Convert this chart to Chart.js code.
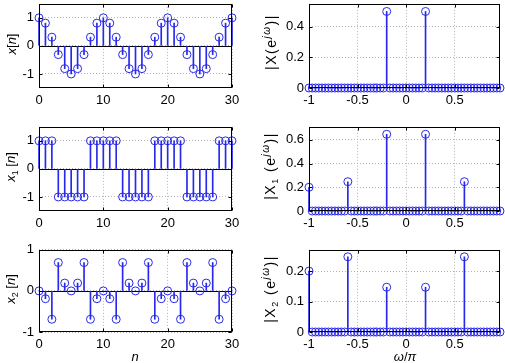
<!DOCTYPE html>
<html>
<head>
<meta charset="utf-8">
<script src="https://cdn.jsdelivr.net/npm/chart.js@4.4.0/dist/chart.umd.min.js"></script>
<style>
html, body { margin: 0; padding: 0; background: #fff; }
#fig { position: relative; width: 505px; height: 363px; overflow: hidden; font-family: "Liberation Sans", Arial, sans-serif; color: #000; }
#fig canvas { position: absolute; }
.yl { position: absolute; transform: translate(-50%, -50%) rotate(-90deg); white-space: nowrap; font-size: 13px; }
.yr { font-size: 14px; letter-spacing: 1.5px; }
.xl { position: absolute; transform: translate(-50%, -50%); white-space: nowrap; font-size: 13px; }
.yl sub { font-size: 9px; vertical-align: -3px; }
.yl sup { font-size: 10px; vertical-align: 6px; }
</style>
</head>
<body>
<div id="fig">
  <canvas id="c0"></canvas><canvas id="c1"></canvas><canvas id="c2"></canvas>
  <canvas id="c3"></canvas><canvas id="c4"></canvas><canvas id="c5"></canvas>
  <div class="yl" style="left:11px;top:44px"><i>x</i>[<i>n</i>]</div>
  <div class="yl" style="left:11px;top:167px"><i>x</i><sub>1</sub> [<i>n</i>]</div>
  <div class="yl" style="left:11px;top:289px"><i>x</i><sub>2</sub> [<i>n</i>]</div>
  <div class="yl yr" style="left:270px;top:42px">|X(e<sup><i>j&omega;</i></sup>)|</div>
  <div class="yl yr" style="left:270px;top:166px">|X<sub>1</sub> (e<sup><i>j&omega;</i></sup>)|</div>
  <div class="yl yr" style="left:270px;top:289px">|X<sub>2</sub> (e<sup><i>j&omega;</i></sup>)|</div>
  <div class="xl" style="left:135px;top:356px"><i>n</i></div>
  <div class="xl" style="left:405px;top:356px"><i>&omega;</i>/<i>&pi;</i></div>
</div>
<script>
// time index
const n = [0, 1, 2, 3, 4, 5, 6, 7, 8, 9, 10, 11, 12, 13, 14, 15, 16, 17, 18, 19, 20,
           21, 22, 23, 24, 25, 26, 27, 28, 29, 30];
const xn = [1, 0.81, 0.31, -0.31, -0.81, -1, -0.81, -0.31, 0.31, 0.81,
            1, 0.81, 0.31, -0.31, -0.81, -1, -0.81, -0.31, 0.31, 0.81,
            1, 0.81, 0.31, -0.31, -0.81, -1, -0.81, -0.31, 0.31, 0.81, 1];
const x1n = [1, 1, 1, -1, -1, -1, -1, -1, 1, 1,
             1, 1, 1, -1, -1, -1, -1, -1, 1, 1,
             1, 1, 1, -1, -1, -1, -1, -1, 1, 1, 1];
const x2n = [0, -0.19, -0.69, 0.69, 0.19, 0, 0.19, 0.69, -0.69, -0.19,
             0, -0.19, -0.69, 0.69, 0.19, 0, 0.19, 0.69, -0.69, -0.19,
             0, -0.19, -0.69, 0.69, 0.19, 0, 0.19, 0.69, -0.69, -0.19, 0];

// normalised frequency w/pi
const omega = [-1, -0.9667, -0.9333, -0.9, -0.8667, -0.8333, -0.8, -0.7667, -0.7333, -0.7,
               -0.6667, -0.6333, -0.6, -0.5667, -0.5333, -0.5, -0.4667, -0.4333, -0.4, -0.3667,
               -0.3333, -0.3, -0.2667, -0.2333, -0.2, -0.1667, -0.1333, -0.1, -0.0667, -0.0333,
               0, 0.0333, 0.0667, 0.1, 0.1333, 0.1667, 0.2, 0.2333, 0.2667, 0.3,
               0.3333, 0.3667, 0.4, 0.4333, 0.4667, 0.5, 0.5333, 0.5667, 0.6, 0.6333,
               0.6667, 0.7, 0.7333, 0.7667, 0.8, 0.8333, 0.8667, 0.9, 0.9333, 0.9667];
const magX = [0, 0, 0, 0, 0, 0, 0, 0, 0, 0,
              0, 0, 0, 0, 0, 0, 0, 0, 0, 0,
              0, 0, 0, 0, 0.5, 0, 0, 0, 0, 0,
              0, 0, 0, 0, 0, 0, 0.5, 0, 0, 0,
              0, 0, 0, 0, 0, 0, 0, 0, 0, 0,
              0, 0, 0, 0, 0, 0, 0, 0, 0, 0];
const magX1 = [0.2, 0, 0, 0, 0, 0, 0, 0, 0, 0,
               0, 0, 0.247, 0, 0, 0, 0, 0, 0, 0,
               0, 0, 0, 0, 0.647, 0, 0, 0, 0, 0,
               0, 0, 0, 0, 0, 0, 0.647, 0, 0, 0,
               0, 0, 0, 0, 0, 0, 0, 0, 0.247, 0,
               0, 0, 0, 0, 0, 0, 0, 0, 0, 0];
const magX2 = [0.2, 0, 0, 0, 0, 0, 0, 0, 0, 0,
               0, 0, 0.247, 0, 0, 0, 0, 0, 0, 0,
               0, 0, 0, 0, 0.147, 0, 0, 0, 0, 0,
               0, 0, 0, 0, 0, 0, 0.147, 0, 0, 0,
               0, 0, 0, 0, 0, 0, 0, 0, 0.247, 0,
               0, 0, 0, 0, 0, 0, 0, 0, 0, 0];

const nTicks = [0, 10, 20, 30];
const wTicks = [-1, -0.5, 0, 0.5];

const BLUE = 'rgb(40,40,236)';
const FONT = { family: '"Liberation Sans", Arial, sans-serif', size: 13 };

const cols = [{ L: 0, W: 250, x0: 39, x1: 232 }, { L: 250, W: 255, x0: 309, x1: 502 }];
const rows = [{ y0: 1, y1: 88 }, { y0: 124, y1: 211 }, { y0: 247, y1: 332 }];

const matlabBox = {
  id: 'matlabBox',
  beforeDatasetsDraw(chart, args, opts) {
    if (!opts.baseline) return;
    const { ctx, chartArea: a, scales: { y } } = chart;
    const py = Math.round(y.getPixelForValue(0)) + 0.5;
    ctx.save();
    ctx.strokeStyle = '#000';
    ctx.lineWidth = 1;
    ctx.beginPath();
    ctx.moveTo(a.left, py);
    ctx.lineTo(a.right, py);
    ctx.stroke();
    ctx.restore();
  },
  afterDraw(chart) {
    const { ctx, chartArea: a, scales: { x, y } } = chart;
    const l = Math.round(a.left) + 0.5, r = Math.round(a.right) - 0.5;
    const t = Math.round(a.top) + 0.5, b = Math.round(a.bottom) - 0.5;
    ctx.save();
    ctx.strokeStyle = '#000';
    ctx.lineWidth = 1;
    ctx.strokeRect(l, t, r - l, b - t);
    ctx.beginPath();
    x.ticks.forEach(tk => {
      const px = Math.round(x.getPixelForValue(tk.value)) + 0.5;
      ctx.moveTo(px, b); ctx.lineTo(px, b - 3);
      ctx.moveTo(px, t); ctx.lineTo(px, t + 3);
    });
    y.ticks.forEach(tk => {
      const py = Math.round(y.getPixelForValue(tk.value)) + 0.5;
      ctx.moveTo(l, py); ctx.lineTo(l + 3, py);
      ctx.moveTo(r, py); ctx.lineTo(r - 3, py);
    });
    ctx.stroke();
    ctx.restore();
  }
};

function stemPlot(id, col, row, xs, ys, xr, yr, xt, yt, baseline) {
  const c = cols[col], r = rows[row];
  const padTop = 10, xh = 30;
  const cv = document.getElementById(id);
  const H = r.y1 - r.y0 + padTop + xh;
  cv.width = c.W; cv.height = H;
  cv.style.left = c.L + 'px';
  cv.style.top = (r.y0 - padTop) + 'px';
  cv.style.width = c.W + 'px';
  cv.style.height = H + 'px';

  const pts = xs.map((v, i) => ({ x: v, y: ys[i] }));
  const gridOpts = { color: '#b4b4b4', lineWidth: 1, drawTicks: false };

  return new Chart(cv, {
    type: 'scatter',
    data: {
      datasets: [
        { type: 'bar', data: pts, backgroundColor: BLUE, borderWidth: 0, barThickness: 1, grouped: false, clip: false },
        { type: 'scatter', data: pts, showLine: false, pointStyle: 'circle', pointRadius: 4,
          pointBorderWidth: 1, pointBorderColor: BLUE, pointBackgroundColor: 'rgba(0,0,0,0)', clip: false }
      ]
    },
    options: {
      responsive: false,
      animation: false,
      events: [],
      layout: { padding: { left: 0, top: padTop, right: c.L + c.W - c.x1, bottom: 0 } },
      plugins: { legend: { display: false }, tooltip: { enabled: false }, matlabBox: { baseline } },
      scales: {
        x: {
          type: 'linear', min: xr[0], max: xr[1], offset: false,
          grid: Object.assign({ offset: false }, gridOpts),
          border: { display: false, dash: [1, 2] },
          ticks: { font: FONT, color: '#000', padding: 5, maxRotation: 0, autoSkip: false,
                   callback: v => String(v) },
          afterBuildTicks: s => { s.ticks = xt.map(v => ({ value: v })); },
          afterFit: s => { s.height = xh; }
        },
        y: {
          type: 'linear', min: yr[0], max: yr[1],
          grid: gridOpts,
          border: { display: false, dash: [1, 2] },
          ticks: { font: FONT, color: '#000', padding: 5, callback: v => String(v) },
          afterBuildTicks: s => { s.ticks = yt.map(v => ({ value: v })); },
          afterFit: s => { s.width = c.x0 - c.L; }
        }
      }
    },
    plugins: [matlabBox]
  });
}

const wMax = Math.max(...omega);
stemPlot('c0', 0, 0, n, xn, [0, 30], [-1.5, 1.5], nTicks, [-1, 0, 1], true);
stemPlot('c1', 0, 1, n, x1n, [0, 30], [-1.5, 1.5], nTicks, [-1, 0, 1], true);
stemPlot('c2', 0, 2, n, x2n, [0, 30], [-1, 1], nTicks, [-1, 0, 1], true);
stemPlot('c3', 1, 0, omega, magX, [-1, wMax], [0, 0.55], wTicks, [0, 0.2, 0.4], false);
stemPlot('c4', 1, 1, omega, magX1, [-1, wMax], [0, 0.71], wTicks, [0, 0.2, 0.4, 0.6], false);
stemPlot('c5', 1, 2, omega, magX2, [-1, wMax], [0, 0.27], wTicks, [0, 0.1, 0.2], false);
</script>
</body>
</html>
